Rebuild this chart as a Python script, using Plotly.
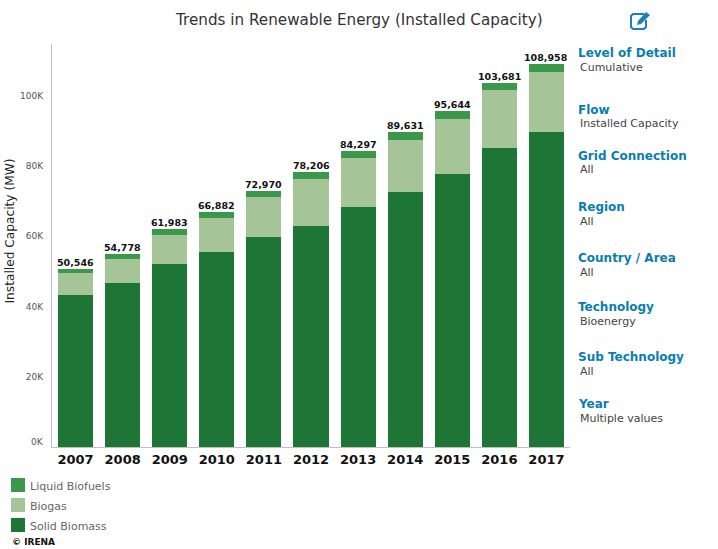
import plotly.graph_objects as go

W, H = 718, 549
years = ["2007", "2008", "2009", "2010", "2011", "2012", "2013", "2014", "2015", "2016", "2017"]
solid_biomass = [43300, 46700, 52100, 55500, 59700, 62900, 68300, 72500, 77700, 85100, 89600]
biogas = [6200, 6750, 8200, 9600, 11400, 13300, 13900, 14800, 15600, 16500, 17100]
liquid_biofuels = [1046, 1328, 1683, 1782, 1870, 2006, 2097, 2331, 2344, 2081, 2258]
totals = [50546, 54778, 61983, 66882, 72970, 78206, 84297, 89631, 95644, 103681, 108958]
y_ticks = [20000, 40000, 60000, 80000, 100000]
y_labels = ["20K", "40K", "60K", "80K", "100K"]
legend_names = ["Liquid Biofuels", "Biogas", "Solid Biomass"]
legend_colors = ["#3b974a", "#a5c497", "#1e7636"]
panel = [
    ("Level of Detail", "Cumulative", 53),
    ("Flow", "Installed Capacity", 110),
    ("Grid Connection", "All", 156),
    ("Region", "All", 207),
    ("Country / Area", "All", 258),
    ("Technology", "Bioenergy", 307),
    ("Sub Technology", "All", 357),
    ("Year", "Multiple values", 404),
]
FONT = "DejaVu Sans"
px = lambda v: v / W
py = lambda v: 1 - v / H

fig = go.Figure()
for name, vals, col in [("Solid Biomass", solid_biomass, legend_colors[2]),
                        ("Biogas", biogas, legend_colors[1]),
                        ("Liquid Biofuels", liquid_biofuels, legend_colors[0])]:
    fig.add_bar(x=years, y=vals, name=name, marker=dict(color=col, line_width=0), showlegend=False)

ann = []
for i, t in enumerate(totals):
    ann.append(dict(xref="x", yref="y", x=i, y=t, text=f"<b>{t:,}</b>", showarrow=False,
                    xanchor="center", yanchor="bottom", borderpad=0,
                    font=dict(family=FONT, size=9.5, color="#111111")))

def text(x, y, s, size, color, bold=False, anchor="left", angle=0):
    t = f"<b>{s}</b>" if bold else s
    ann.append(dict(xref="paper", yref="paper", x=px(x), y=py(y), text=t, showarrow=False,
                    xanchor=anchor, yanchor="middle", textangle=angle, borderpad=0, borderwidth=0,
                    font=dict(family=FONT, size=size, color=color)))

text(359, 20, "Trends in Renewable Energy (Installed Capacity)", 15.2, "#333333", anchor="center")
text(44, 441.5, "0K", 9, "#555555", anchor="right")
text(9.5, 231, "Installed Capacity (MW)", 12.2, "#222222", anchor="center", angle=-90)
for head, val, y in panel:
    text(578, y, head, 12, "#0a7db0", bold=True)
    text(580, y + 14, val, 11, "#444444")
shapes = []
for i, (n, c) in enumerate(zip(legend_names, legend_colors)):
    top = 478 + 20 * i
    shapes.append(dict(type="rect", xref="paper", yref="paper", x0=px(11), x1=px(25),
                       y0=py(top), y1=py(top + 14), fillcolor=c, line_width=0))
    text(30, top + 8, n, 11, "#666666")
text(12, 542, "© IRENA", 9, "#111111", bold=True)

# edit icon
def path(points, close=False):
    d = "M" + " L".join(f"{px(x):.5f},{py(y):.5f}" for x, y in points)
    return d + (" Z" if close else "")
shapes.append(dict(type="path", xref="paper", yref="paper",
                   path=path([(644, 14), (633, 14), (631, 16), (631, 27), (633, 29), (644, 29), (646, 27), (646, 20)]),
                   line=dict(color="#1f80b8", width=2), fillcolor="rgba(0,0,0,0)"))
shapes.append(dict(type="path", xref="paper", yref="paper",
                   path=path([(646, 12), (650, 15), (641, 24), (637, 25), (638, 21)], True),
                   line_width=0, fillcolor="#1f80b8"))

fig.update_layout(
    width=W, height=H, barmode="stack", bargap=0.255,
    margin=dict(l=0, r=0, t=0, b=0), plot_bgcolor="white", paper_bgcolor="white",
    annotations=ann, shapes=shapes,
    xaxis=dict(domain=[px(52), px(570)], range=[-0.5, 10.5], type="category", showgrid=False,
               showline=True, linecolor="#c0c0c0", linewidth=1, ticks="",
               tickfont=dict(family=FONT, size=13, color="#111111", weight="bold")),
    yaxis=dict(domain=[py(447), py(44)], range=[0, 114650], tickvals=y_ticks, ticktext=y_labels,
               showgrid=False, zeroline=False, showline=True, linecolor="#c0c0c0", linewidth=1,
               ticks="", ticklabelstandoff=6, tickfont=dict(family=FONT, size=9, color="#555555")),
)
fig.write_html("out.html", config={"displayModeBar": False},
               post_script="document.body.style.margin='0';")
